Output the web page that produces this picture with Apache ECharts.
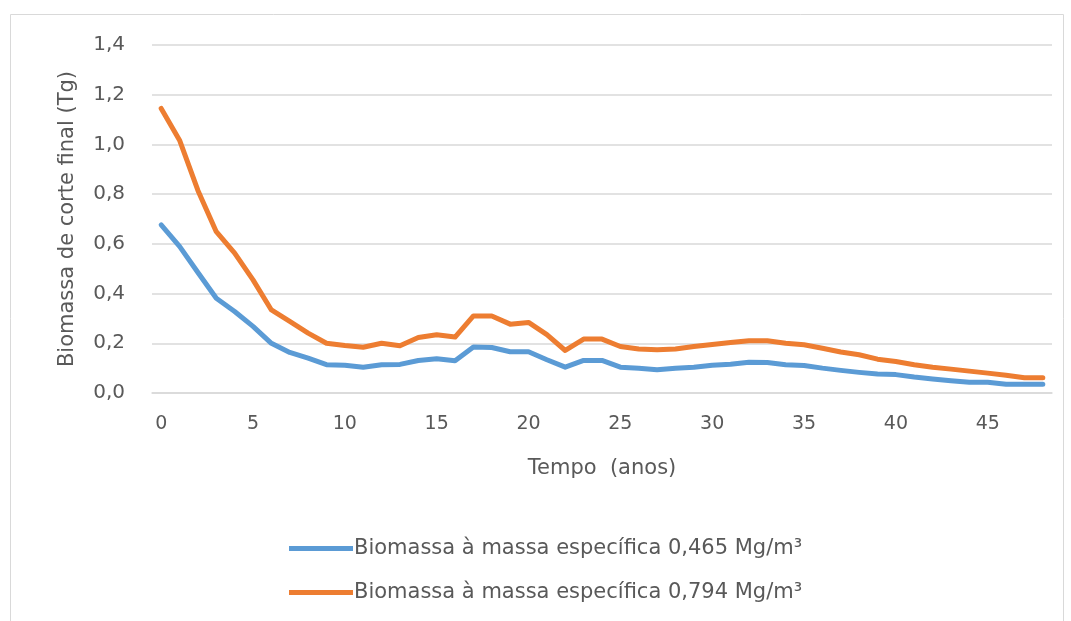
<!DOCTYPE html>
<html>
<head>
<meta charset="utf-8">
<script src="https://cdn.jsdelivr.net/npm/echarts@6/dist/echarts.min.js"></script>
<style>
  html, body { margin: 0; padding: 0; background: #fff; }
  #chart { width: 1071px; height: 621px; }
</style>
</head>
<body>
<div id="chart"></div>
<script>
// anos 0..48
const years = Array.from({ length: 49 }, (_, i) => String(i))

// Biomassa à massa específica 0,465 Mg/m³
const biomassaBaixa = [
  0.676, 0.590, 0.485, 0.381, 0.328, 0.268, 0.200, 0.163, 0.140, 0.114,
  0.112, 0.104, 0.114, 0.115, 0.131, 0.138, 0.130, 0.185, 0.183, 0.166,
  0.166, 0.134, 0.104, 0.131, 0.131, 0.104, 0.100, 0.094, 0.100, 0.104,
  0.112, 0.116, 0.124, 0.123, 0.114, 0.111, 0.100, 0.091, 0.083, 0.076,
  0.074, 0.064, 0.056, 0.049, 0.043, 0.043, 0.035, 0.035, 0.035
]

// Biomassa à massa específica 0,794 Mg/m³
const biomassaAlta = [
  1.145, 1.017, 0.815, 0.649, 0.563, 0.455, 0.334, 0.288, 0.241, 0.200,
  0.191, 0.184, 0.200, 0.190, 0.223, 0.234, 0.225, 0.310, 0.310, 0.277,
  0.284, 0.235, 0.171, 0.217, 0.217, 0.187, 0.177, 0.174, 0.177, 0.187,
  0.195, 0.203, 0.210, 0.210, 0.200, 0.194, 0.180, 0.165, 0.154, 0.136,
  0.127, 0.114, 0.104, 0.096, 0.088, 0.080, 0.071, 0.061, 0.061
]

const legendNames = [
  'Biomassa à massa específica 0,465 Mg/m³',
  'Biomassa à massa específica 0,794 Mg/m³'
]

const font = 'DejaVu Sans'
const grey = '#595959'

const chart = echarts.init(document.getElementById('chart'))
chart.setOption({
  animation: false,
  graphic: [
    {
      type: 'rect',
      shape: { x: 10.5, y: 14.5, width: 1053, height: 610 },
      style: { fill: 'none', stroke: '#d9d9d9', lineWidth: 1 },
      silent: true
    }
  ],
  grid: { left: 152, right: 19, top: 45, bottom: 228 },
  legend: {
    orient: 'vertical',
    left: 284,
    top: 533,
    itemWidth: 64,
    itemHeight: 5,
    itemGap: 23,
    icon: 'rect',
    textStyle: { fontFamily: font, fontSize: 21, color: grey, padding: [0, 0, 0, -4] },
    data: legendNames
  },
  xAxis: {
    type: 'category',
    data: years,
    boundaryGap: true,
    name: 'Tempo  (anos)',
    nameLocation: 'middle',
    nameGap: 65,
    nameTextStyle: { fontFamily: font, fontSize: 21, color: grey },
    axisLine: { lineStyle: { color: '#d9d9d9', width: 1.5 } },
    axisTick: { show: false },
    axisLabel: {
      interval: 4,
      fontFamily: font,
      fontSize: 19,
      color: grey,
      margin: 22
    }
  },
  yAxis: {
    type: 'value',
    min: 0,
    max: 1.4,
    interval: 0.2,
    name: 'Biomassa de corte final (Tg)',
    nameLocation: 'middle',
    nameGap: 74,
    nameTextStyle: { fontFamily: font, fontSize: 21, color: grey },
    axisLine: { show: false },
    axisTick: { show: false },
    axisLabel: {
      fontFamily: font,
      fontSize: 20,
      color: grey,
      margin: 27,
      formatter: (v) => v.toFixed(1).replace('.', ',')
    },
    splitLine: { lineStyle: { color: '#d9d9d9', width: 1.5 } }
  },
  series: [
    {
      name: legendNames[0],
      type: 'line',
      data: biomassaBaixa,
      symbol: 'none',
      color: '#5B9BD5',
      lineStyle: { width: 5, cap: 'round', join: 'round' }
    },
    {
      name: legendNames[1],
      type: 'line',
      data: biomassaAlta,
      symbol: 'none',
      color: '#ED7D31',
      lineStyle: { width: 5, cap: 'round', join: 'round' }
    }
  ]
})
</script>
</body>
</html>
